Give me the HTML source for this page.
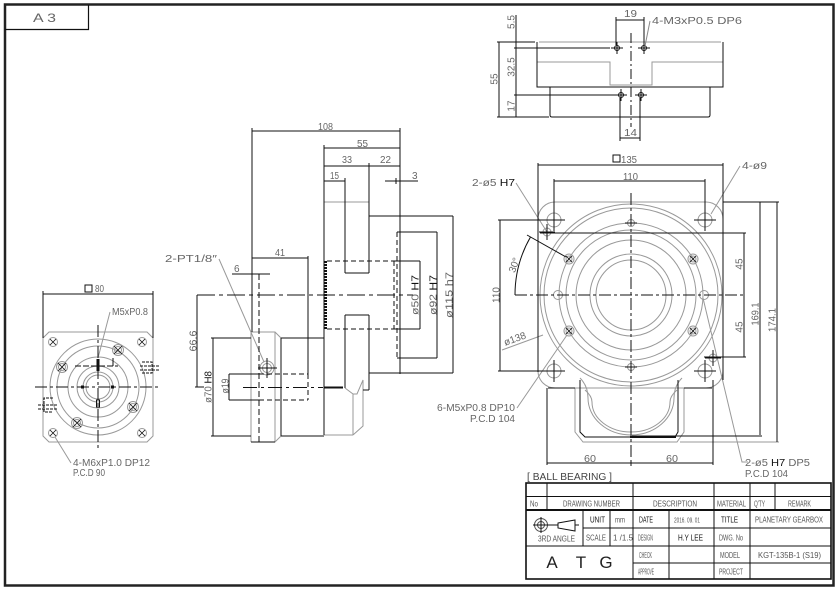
<!DOCTYPE html>
<html><head><meta charset="utf-8"><style>
html,body{margin:0;padding:0;background:#fff;}
svg{display:block;}
text{font-family:"Liberation Sans",sans-serif;}
.t{font-size:10px;fill:#666;}
.k{fill:#111;}
.s{font-size:8px;fill:#555;}
</style></head><body>
<svg width="838" height="593" viewBox="0 0 838 593" xmlns="http://www.w3.org/2000/svg">
<rect width="838" height="593" fill="#fff"/>
<!-- border -->
<rect x="5" y="4.5" width="828.5" height="581" fill="none" stroke="#222" stroke-width="2.5"/>
<path d="M5 29.5H88.5V5" fill="none" stroke="#111" stroke-width="1.2"/>
<text x="33" y="22" class="t" style="font-size:12px" textLength="23" lengthAdjust="spacingAndGlyphs">A 3</text>

<!-- ================= TOP VIEW ================= -->
<g fill="none" stroke="#999" stroke-width="1">
<path d="M539 42H721"/>
<path d="M537 62H610V85H652V62H723"/>
</g>
<g fill="none" stroke="#111" stroke-width="1">
<path d="M537 42V87H723V42"/>
<path d="M550 87V115Q550 117 552 117H708Q710 117 710 115V87"/>
<path d="M499 42V117M497 42H535M497 117H549"/>
<path d="M516 15V117M514 48H610M514 95H618"/>
<path d="M616 20H644M616 17V45M644 17V45"/>
<path d="M620 138H640M620 98V141M640 98V141"/>
<path d="M611 48H623M617 42V54M638 48H650M644 42V54M615 95H627M621 89V101M635 95H647M641 89V101"/>
<path d="M631 33V127" stroke-dasharray="10 3 2 3"/>
<circle cx="617" cy="48" r="2.5"/><circle cx="644" cy="48" r="2.5"/><circle cx="621" cy="95" r="2.5"/><circle cx="641" cy="95" r="2.5"/>
</g>
<path d="M650 21L645 46" stroke="#888" fill="none"/>
<text x="624" y="17" class="t" textLength="13" lengthAdjust="spacingAndGlyphs">19</text>
<text x="652" y="24" class="t" textLength="90" lengthAdjust="spacingAndGlyphs">4-M3xP0.5 DP6</text>
<text x="624" y="136" class="t" textLength="13" lengthAdjust="spacingAndGlyphs">14</text>
<g class="t" text-anchor="middle">
<text transform="translate(494,79) rotate(-90)" y="3.5">55</text>
<text transform="translate(511,22) rotate(-90)" y="3.5">5.5</text>
<text transform="translate(511,67) rotate(-90)" y="3.5">32.5</text>
<text transform="translate(511,106) rotate(-90)" y="3.5">17</text>
</g>

<!-- ================= MIDDLE (SIDE) VIEW ================= -->
<g fill="none" stroke="#999" stroke-width="1">
<path d="M324 202H369"/>
<path d="M251 332V442M251 332H275L281 338M251 442H275L281 436M275 332V442"/>
<path d="M345 388L353 394V435M353 394H357L363 380V426L353 435M324 435H353"/>
<path d="M219 259L264 362"/>
<circle cx="267" cy="368" r="7"/><circle cx="267" cy="368" r="4.5"/>
</g>
<g fill="none" stroke="#111" stroke-width="1">
<path d="M252 131H400M252 128V332"/>
<path d="M324 148H400M324 166H400M369 163V216M400 128V374M324 145V435"/>
<path d="M324 181H345M345 178V273M345 315V388M385 181H418M396 178V184"/>
<path d="M369 216H453M369 373H453M453 216V373M369 216V273M369 315V373"/>
<path d="M397 232H437M397 358H437M437 232V358"/>
<path d="M397 232V358" stroke-dasharray="5 3"/>
<path d="M327 261H394M327 329H394M394 261V329" stroke-dasharray="5 3"/>
<path d="M394 261H420M394 329H420M420 261V329"/>
<path d="M345 273H369M345 315H369"/>
<path d="M197 295H413" stroke-dasharray="18 4 4 4"/>
<path d="M213 338V436M211 338H251M211 436H251M281 338H324M281 436H324M281 338V436M251 442H275"/>
<path d="M259 274V436" stroke-dasharray="6 3"/>
<path d="M259 436V442M232 274H270M252 271V277"/>
<path d="M252 258H308M308 256V374M229 374V400M229 374H259M229 400H259"/>
<path d="M308 374V400M259 374H308M259 400H308" stroke-dasharray="5 3"/>
<path d="M197 295V387M195 387H204"/>
<path d="M243 387.5H323" stroke-dasharray="14 4 3 4"/>
<path d="M324 387.5H343" stroke-width="2"/>
<path d="M258 368H277M267 358V378"/>
<path d="M369 373V390M363 390H369"/>
</g>
<path d="M325.5 261V329" stroke="#111" stroke-width="3" stroke-dasharray="2 1" fill="none"/>
<text x="318" y="130" class="t" textLength="15" lengthAdjust="spacingAndGlyphs">108</text>
<text x="357" y="147" class="t" textLength="11" lengthAdjust="spacingAndGlyphs">55</text>
<text x="342" y="163" class="t" textLength="10" lengthAdjust="spacingAndGlyphs">33</text>
<text x="380" y="163" class="t" textLength="11" lengthAdjust="spacingAndGlyphs">22</text>
<text x="330" y="179" class="t" textLength="9" lengthAdjust="spacingAndGlyphs">15</text>
<text x="412" y="179" class="t">3</text>
<text x="275" y="256" class="t" textLength="10" lengthAdjust="spacingAndGlyphs">41</text>
<text x="234" y="272" class="t">6</text>
<text x="165" y="262" class="t" textLength="52" lengthAdjust="spacingAndGlyphs">2-PT1/8″</text>
<g class="t" text-anchor="middle">
<text transform="translate(415,295) rotate(-90)" y="3.5" textLength="40" lengthAdjust="spacingAndGlyphs">ø50 <tspan class="k">H7</tspan></text>
<text transform="translate(433,295) rotate(-90)" y="3.5" textLength="40" lengthAdjust="spacingAndGlyphs">ø92 <tspan class="k">H7</tspan></text>
<text transform="translate(449,295) rotate(-90)" y="3.5" textLength="46" lengthAdjust="spacingAndGlyphs">ø115 h7</text>
<text transform="translate(193,341) rotate(-90)" y="3.5" textLength="21" lengthAdjust="spacingAndGlyphs">66.6</text>
<text transform="translate(208,387) rotate(-90)" y="3.5" textLength="32" lengthAdjust="spacingAndGlyphs">ø70 <tspan class="k">H8</tspan></text>
<text transform="translate(225,386) rotate(-90)" y="3.5" textLength="15" lengthAdjust="spacingAndGlyphs">ø19</text>
</g>
<text x="437" y="411" class="t" textLength="78" lengthAdjust="spacingAndGlyphs">6-M5xP0.8 DP10</text>
<text x="470" y="422" class="t" textLength="45" lengthAdjust="spacingAndGlyphs">P.C.D 104</text>

<!-- ================= LEFT VIEW ================= -->
<g fill="none" stroke="#999" stroke-width="1">
<path d="M49 332H147L153 338V436L147 442H49L43 436V338Z"/>
<circle cx="98" cy="387" r="48"/><circle cx="98" cy="387" r="41"/><circle cx="98" cy="387" r="30"/>
<circle cx="98" cy="387" r="21"/><circle cx="98" cy="387" r="15"/><circle cx="98" cy="387" r="12"/>
<circle cx="53" cy="342" r="4.5"/><circle cx="142" cy="342" r="4.5"/><circle cx="53" cy="433" r="4.5"/><circle cx="142" cy="433" r="4.5"/>
<circle cx="62" cy="367" r="5.5"/><circle cx="62" cy="367" r="3.5"/>
<circle cx="118" cy="350" r="5.5"/><circle cx="118" cy="350" r="3.5"/>
<circle cx="133" cy="407" r="5.5"/><circle cx="133" cy="407" r="3.5"/>
<circle cx="77" cy="423" r="5.5"/><circle cx="77" cy="423" r="3.5"/>
<path d="M110 312L98 358M71 463L55 437"/>
</g>
<g fill="none" stroke="#111" stroke-width="1">
<path d="M43 294H153M43 291V338M153 291V338"/>
<path d="M35 387H159M98 325V450" stroke-dasharray="12 3 3 3"/>
<path d="M75 366H118" stroke-dasharray="6 2"/>
<path d="M113 358V366"/>
<path d="M50 339L56 345M56 339L50 345M139 339L145 345M145 339L139 345M50 430L56 436M56 430L50 436M139 430L145 436M145 430L139 436" stroke-width="0.8"/>
<path d="M58 363L66 371M66 363L58 371M114 346L122 354M122 346L114 354M129 403L137 411M137 403L129 411M73 419L81 427M81 419L73 427" stroke-width="0.8"/>
<rect x="96.5" y="400" width="3" height="7"/>
<path d="M142 362H152V373H142M140 366H159M140 370H159" stroke-dasharray="3 1"/>
<path d="M53 398H44V412H53M38 405H58M38 409H58" stroke-dasharray="3 1"/>
</g>
<rect x="96.5" y="359" width="3" height="12" fill="#111"/>
<rect x="81" y="385.5" width="3" height="3" fill="#111"/>
<rect x="111" y="385.5" width="3" height="3" fill="#111"/>
<rect x="85" y="285" width="7" height="7" fill="none" stroke="#111"/>
<text x="95" y="292" class="t" textLength="9" lengthAdjust="spacingAndGlyphs">80</text>
<text x="112" y="315" class="t" textLength="36" lengthAdjust="spacingAndGlyphs">M5xP0.8</text>
<text x="73" y="466" class="t" textLength="77" lengthAdjust="spacingAndGlyphs">4-M6xP1.0 DP12</text>
<text x="73" y="476" class="t" textLength="32" lengthAdjust="spacingAndGlyphs">P.C.D 90</text>

<!-- ================= RIGHT (FRONT) VIEW ================= -->
<g fill="none" stroke="#999" stroke-width="1">
<rect x="538" y="202" width="185" height="186" rx="17"/>
<circle cx="631" cy="295" r="91"/><circle cx="631" cy="295" r="87"/><circle cx="631" cy="295" r="72"/>
<circle cx="631" cy="295" r="65"/><circle cx="631" cy="295" r="55"/><circle cx="631" cy="295" r="41"/><circle cx="631" cy="295" r="35"/>
<circle cx="554" cy="220" r="7"/><circle cx="705" cy="220" r="7"/><circle cx="554" cy="371" r="7"/><circle cx="705" cy="371" r="7"/>
<circle cx="569" cy="259" r="5"/><circle cx="569" cy="259" r="3"/>
<circle cx="693" cy="259" r="5"/><circle cx="693" cy="259" r="3"/>
<circle cx="569" cy="331" r="5"/><circle cx="569" cy="331" r="3"/>
<circle cx="693" cy="331" r="5"/><circle cx="693" cy="331" r="3"/>
<circle cx="631" cy="223" r="3.5"/><circle cx="631" cy="367" r="3.5"/>
<circle cx="558" cy="295" r="4.5"/><circle cx="704" cy="295" r="4.5"/>
<circle cx="547" cy="232" r="4"/><circle cx="713" cy="358" r="4"/>
<path d="M575 388V432L583 442H677L684 432V388"/>
<path d="M580 378Q588 386 588 398A43 37 0 0 0 674 398Q674 386 682 378"/>
<path d="M585 390Q592 396 592 402A39 30 0 0 0 670 402Q670 396 677 390"/>
<path d="M516 183L547 232M740 166L711 214M517 408L567 335M703 298L742 462H748M502 350L543 335"/>
<path d="M680 442H779"/>
</g>
<g fill="none" stroke="#111" stroke-width="1">
<path d="M538 165H723M538 163V372M723 163V380"/>
<path d="M554 181H705M554 179V228M705 179V228"/>
<path d="M500 220V371M498 220H563M498 371H563"/>
<path d="M744 233V357M540 233H746M704 357H746"/>
<path d="M760 202V435M777 202V442M723 202H779M632 436H762"/>
<path d="M547 388V465M713 380V465M547 463H713M631 460V466"/>
<path d="M548 388H575M684 388H712"/>
<path d="M515 295H743M631 193V465" stroke-dasharray="12 3 3 3"/>
<path d="M543 220H565M554 209V231M694 220H716M705 209V231M543 371H565M554 360V382M694 371H716M705 360V382"/>
<path d="M539 232H555M547 224V240M705 358H721M713 350V366"/>
<path d="M625 223H637M625 367H637"/>
<path d="M566 256L572 262M572 256L566 262M690 256L696 262M696 256L690 262M566 328L572 334M572 328L566 334M690 328L696 334M696 328L690 334" stroke-width="0.8"/>
<path d="M580 380V432L585 437H675L678 432V380"/>
<path d="M630 437H676" stroke-width="2"/>
<path d="M515 295A116 116 0 0 1 530.5 237"/>
<path d="M527 235L566 257"/>
</g>
<rect x="613" y="155" width="7" height="7" fill="none" stroke="#111"/>
<text x="621" y="163" class="t" textLength="16" lengthAdjust="spacingAndGlyphs">135</text>
<text x="623" y="180" class="t" textLength="15" lengthAdjust="spacingAndGlyphs">110</text>
<text x="742" y="169" class="t" textLength="25" lengthAdjust="spacingAndGlyphs">4-ø9</text>
<text x="472" y="186" class="t" textLength="43" lengthAdjust="spacingAndGlyphs">2-ø5 <tspan class="k">H7</tspan></text>
<text x="584" y="462" class="t" textLength="12" lengthAdjust="spacingAndGlyphs">60</text>
<text x="666" y="462" class="t" textLength="12" lengthAdjust="spacingAndGlyphs">60</text>
<text x="745" y="466" class="t" textLength="65" lengthAdjust="spacingAndGlyphs">2-ø5 <tspan class="k">H7</tspan> DP5</text>
<text x="745" y="477" class="t" textLength="43" lengthAdjust="spacingAndGlyphs">P.C.D 104</text>
<g class="t" text-anchor="middle">
<text transform="translate(496,295) rotate(-90)" y="3.5">110</text>
<text transform="translate(739,264) rotate(-90)" y="3.5">45</text>
<text transform="translate(739,327) rotate(-90)" y="3.5">45</text>
<text transform="translate(755,314) rotate(-90)" y="3.5" textLength="23" lengthAdjust="spacingAndGlyphs">169.1</text>
<text transform="translate(772,320) rotate(-90)" y="3.5" textLength="24" lengthAdjust="spacingAndGlyphs">174.1</text>
<text transform="translate(514,265) rotate(-70)" y="3.5">30°</text>
<text transform="translate(516,342) rotate(-20)" y="0">ø138</text>
</g>

<!-- ================= TITLE BLOCK ================= -->
<text x="527" y="480" class="t" style="fill:#444" textLength="85" lengthAdjust="spacingAndGlyphs">[ BALL BEARING ]</text>
<g fill="none" stroke="#111" stroke-width="1">
<rect x="526" y="483" width="305" height="96" stroke-width="1.6"/>
<path d="M526 496.5H831M583 528H831M526 546H831M633 563H831"/>
<path d="M526 510H831" stroke-width="2"/>
<path d="M547 483V510M583 510V546M610 510V546M633 483V579M669 510V579M714 483V579M750 483V579M775 483V510"/>
<circle cx="541" cy="525" r="6.5" stroke="#555"/><circle cx="541" cy="525" r="3.5" stroke="#555"/>
<path d="M533 525H558M541 517V533M558 523L575 520V531L558 528ZM575 525H579"/>
</g>
<g class="s">
<text x="530" y="506.5" textLength="8" lengthAdjust="spacingAndGlyphs">No</text>
<text x="563" y="506.5" textLength="57" lengthAdjust="spacingAndGlyphs">DRAWING NUMBER</text>
<text x="653" y="506.5" textLength="44" lengthAdjust="spacingAndGlyphs">DESCRIPTION</text>
<text x="717" y="506.5" textLength="29" lengthAdjust="spacingAndGlyphs">MATERIAL</text>
<text x="754" y="506.5" textLength="11" lengthAdjust="spacingAndGlyphs">Q'TY</text>
<text x="788" y="506.5" textLength="23" lengthAdjust="spacingAndGlyphs">REMARK</text>
<text x="590" y="522.5" textLength="15" lengthAdjust="spacingAndGlyphs" class="k">UNIT</text>
<text x="615" y="522.5" textLength="10" lengthAdjust="spacingAndGlyphs">mm</text>
<text x="639" y="522.5" textLength="14" lengthAdjust="spacingAndGlyphs" class="k">DATE</text>
<text x="674" y="522.5" textLength="26" lengthAdjust="spacingAndGlyphs" style="font-size:7px">2016. 09. 01</text>
<text x="721" y="522.5" textLength="17" lengthAdjust="spacingAndGlyphs" class="k">TITLE</text>
<text x="755" y="522.5" textLength="68" lengthAdjust="spacingAndGlyphs">PLANETARY GEARBOX</text>
<text x="586" y="540.5" textLength="20" lengthAdjust="spacingAndGlyphs">SCALE</text>
<text x="613" y="540.5" textLength="20" lengthAdjust="spacingAndGlyphs">1 /1.5</text>
<text x="638" y="540.5" textLength="15" lengthAdjust="spacingAndGlyphs">DESIGN</text>
<text x="678" y="540.5" textLength="25" lengthAdjust="spacingAndGlyphs" class="k">H.Y LEE</text>
<text x="719" y="540.5" textLength="24" lengthAdjust="spacingAndGlyphs">DWG. No</text>
<text x="538" y="541.5" textLength="37" lengthAdjust="spacingAndGlyphs">3RD ANGLE</text>
<text x="639" y="558" textLength="13" lengthAdjust="spacingAndGlyphs">CHECK</text>
<text x="720" y="558" textLength="20" lengthAdjust="spacingAndGlyphs">MODEL</text>
<text x="758" y="558" textLength="63" lengthAdjust="spacingAndGlyphs">KGT-135B-1 (S19)</text>
<text x="638" y="574.5" textLength="16" lengthAdjust="spacingAndGlyphs">APPROVE</text>
<text x="719" y="574.5" textLength="24" lengthAdjust="spacingAndGlyphs">PROJECT</text>
</g>
<g style="font-size:17px;fill:#222" text-anchor="middle">
<text x="552" y="568">A</text>
<text x="581" y="568">T</text>
<text x="606" y="568">G</text>
</g>
</svg>
</body></html>
